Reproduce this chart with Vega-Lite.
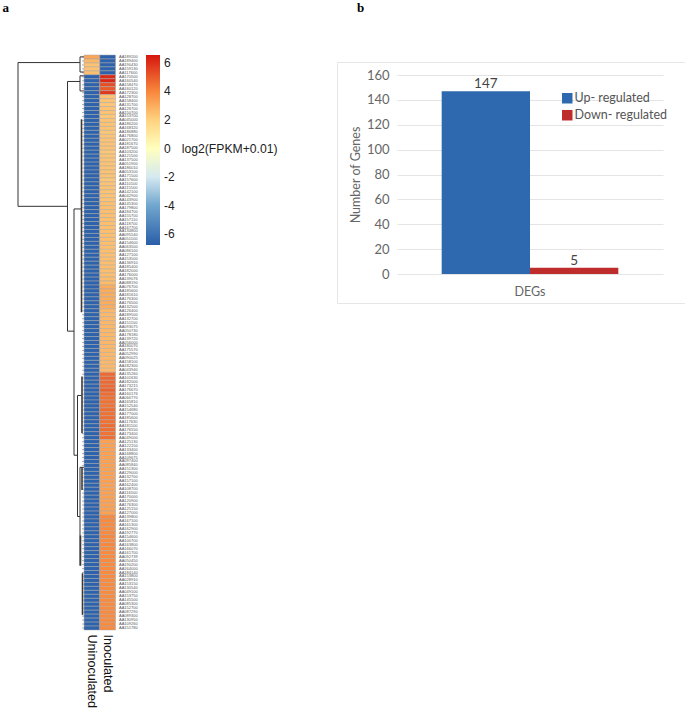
{"$schema":"https://vega.github.io/schema/vega-lite/v6.json","background":"white","padding":{"left":2,"top":2,"right":0,"bottom":0},
"config":{"view":{"stroke":null},"font":"Liberation Sans"},
"datasets":{"tree":[
{"branch":"main","height":66,"height2":66,"leaf":2,"leaf2":40},
{"branch":"main","height":66,"height2":4,"leaf":2,"leaf2":2},
{"branch":"main","height":4,"height2":4,"leaf":0.5,"leaf2":4.5},
{"branch":"main","height":4,"height2":0,"leaf":0.5,"leaf2":0.5},
{"branch":"main","height":4,"height2":0,"leaf":4.5,"leaf2":4.5},
{"branch":"main","height":66,"height2":16.5,"leaf":40,"leaf2":40},
{"branch":"main","height":16.5,"height2":16.5,"leaf":7,"leaf2":73},
{"branch":"main","height":16.5,"height2":4,"leaf":7,"leaf2":7},
{"branch":"main","height":4,"height2":4,"leaf":5.5,"leaf2":9.5},
{"branch":"main","height":4,"height2":0,"leaf":5.5,"leaf2":5.5},
{"branch":"main","height":4,"height2":0,"leaf":9.5,"leaf2":9.5},
{"branch":"main","height":16.5,"height2":10,"leaf":73,"leaf2":73},
{"branch":"main","height":10,"height2":10,"leaf":40.7,"leaf2":105.8},
{"branch":"main","height":10,"height2":2.5,"leaf":40.7,"leaf2":40.7},
{"branch":"main","height":10,"height2":6.5,"leaf":105.8,"leaf2":105.8},
{"branch":"main","height":6.5,"height2":6.5,"leaf":90,"leaf2":122},
{"branch":"main","height":6.5,"height2":2.5,"leaf":90,"leaf2":90},
{"branch":"main","height":6.5,"height2":4,"leaf":122,"leaf2":122},
{"branch":"main","height":4,"height2":4,"leaf":109,"leaf2":135},
{"branch":"main","height":4,"height2":0,"leaf":109,"leaf2":109},
{"branch":"dense","height":2.5,"height2":2.5,"leaf":17,"leaf2":68},
{"branch":"dense","height":2,"height2":2,"leaf":85,"leaf2":100},
{"branch":"dense","height":2,"height2":2,"leaf":109,"leaf2":115},
{"branch":"dense","height":3.5,"height2":3.5,"leaf":127,"leaf2":135},
{"branch":"dense","height":1.5,"height2":1.5,"leaf":137,"leaf2":148}
],
"cells":[
{"g":"AA189200","s":"Uninoculated","v":3.2},{"g":"AA189200","s":"Inoculated","v":-6.6},
{"g":"AA189400","s":"Uninoculated","v":2.7},{"g":"AA189400","s":"Inoculated","v":-6.6},
{"g":"AA190430","s":"Uninoculated","v":2.4},{"g":"AA190430","s":"Inoculated","v":-6.6},
{"g":"AA159130","s":"Uninoculated","v":2.4},{"g":"AA159130","s":"Inoculated","v":-6.6},
{"g":"AA117600","s":"Uninoculated","v":2.5},{"g":"AA117600","s":"Inoculated","v":-6.6},
{"g":"AA170500","s":"Uninoculated","v":-6.6},{"g":"AA170500","s":"Inoculated","v":6.1},
{"g":"AA160540","s":"Uninoculated","v":-6.6},{"g":"AA160540","s":"Inoculated","v":6.2},
{"g":"AA158470","s":"Uninoculated","v":-6.6},{"g":"AA158470","s":"Inoculated","v":5.3},
{"g":"AA160120","s":"Uninoculated","v":-6.6},{"g":"AA160120","s":"Inoculated","v":5.0},
{"g":"AA172300","s":"Uninoculated","v":-6.6},{"g":"AA172300","s":"Inoculated","v":5.8},
{"g":"AA128700","s":"Uninoculated","v":-6.6},{"g":"AA128700","s":"Inoculated","v":2.4},
{"g":"AA158400","s":"Uninoculated","v":-6.6},{"g":"AA158400","s":"Inoculated","v":2.4},
{"g":"AA131700","s":"Uninoculated","v":-6.6},{"g":"AA131700","s":"Inoculated","v":2.3},
{"g":"AA126700","s":"Uninoculated","v":-6.6},{"g":"AA126700","s":"Inoculated","v":2.4},
{"g":"AA150700","s":"Uninoculated","v":-6.6},{"g":"AA150700","s":"Inoculated","v":2.4},
{"g":"AA153700","s":"Uninoculated","v":-6.6},{"g":"AA153700","s":"Inoculated","v":2.3},
{"g":"AA045000","s":"Uninoculated","v":-6.6},{"g":"AA045000","s":"Inoculated","v":2.4},
{"g":"AA186200","s":"Uninoculated","v":-6.6},{"g":"AA186200","s":"Inoculated","v":2.4},
{"g":"AA168320","s":"Uninoculated","v":-6.6},{"g":"AA168320","s":"Inoculated","v":2.4},
{"g":"AA186880","s":"Uninoculated","v":-6.6},{"g":"AA186880","s":"Inoculated","v":2.3},
{"g":"AA176800","s":"Uninoculated","v":-6.6},{"g":"AA176800","s":"Inoculated","v":2.4},
{"g":"AA021700","s":"Uninoculated","v":-6.6},{"g":"AA021700","s":"Inoculated","v":2.4},
{"g":"AA181670","s":"Uninoculated","v":-6.6},{"g":"AA181670","s":"Inoculated","v":2.4},
{"g":"AA187500","s":"Uninoculated","v":-6.6},{"g":"AA187500","s":"Inoculated","v":2.4},
{"g":"AA103200","s":"Uninoculated","v":-6.6},{"g":"AA103200","s":"Inoculated","v":2.3},
{"g":"AA121500","s":"Uninoculated","v":-6.6},{"g":"AA121500","s":"Inoculated","v":2.4},
{"g":"AA137500","s":"Uninoculated","v":-6.6},{"g":"AA137500","s":"Inoculated","v":2.4},
{"g":"AA051900","s":"Uninoculated","v":-6.6},{"g":"AA051900","s":"Inoculated","v":2.4},
{"g":"AA186010","s":"Uninoculated","v":-6.6},{"g":"AA186010","s":"Inoculated","v":2.4},
{"g":"AA053100","s":"Uninoculated","v":-6.6},{"g":"AA053100","s":"Inoculated","v":2.4},
{"g":"AA171500","s":"Uninoculated","v":-6.6},{"g":"AA171500","s":"Inoculated","v":2.4},
{"g":"AA157600","s":"Uninoculated","v":-6.6},{"g":"AA157600","s":"Inoculated","v":2.3},
{"g":"AA110100","s":"Uninoculated","v":-6.6},{"g":"AA110100","s":"Inoculated","v":2.4},
{"g":"AA115500","s":"Uninoculated","v":-6.6},{"g":"AA115500","s":"Inoculated","v":2.4},
{"g":"AA142100","s":"Uninoculated","v":-6.6},{"g":"AA142100","s":"Inoculated","v":2.4},
{"g":"AA042900","s":"Uninoculated","v":-6.6},{"g":"AA042900","s":"Inoculated","v":2.4},
{"g":"AA143900","s":"Uninoculated","v":-6.6},{"g":"AA143900","s":"Inoculated","v":2.4},
{"g":"AA145300","s":"Uninoculated","v":-6.6},{"g":"AA145300","s":"Inoculated","v":2.5},
{"g":"AA179800","s":"Uninoculated","v":-6.6},{"g":"AA179800","s":"Inoculated","v":2.5},
{"g":"AA184700","s":"Uninoculated","v":-6.6},{"g":"AA184700","s":"Inoculated","v":2.5},
{"g":"AA155700","s":"Uninoculated","v":-6.6},{"g":"AA155700","s":"Inoculated","v":2.5},
{"g":"AA157110","s":"Uninoculated","v":-6.6},{"g":"AA157110","s":"Inoculated","v":2.5},
{"g":"AA118700","s":"Uninoculated","v":-6.6},{"g":"AA118700","s":"Inoculated","v":2.5},
{"g":"AA167700","s":"Uninoculated","v":-6.6},{"g":"AA167700","s":"Inoculated","v":2.5},
{"g":"AA134800","s":"Uninoculated","v":-6.6},{"g":"AA134800","s":"Inoculated","v":2.5},
{"g":"AA095540","s":"Uninoculated","v":-6.6},{"g":"AA095540","s":"Inoculated","v":2.5},
{"g":"AA051100","s":"Uninoculated","v":-6.6},{"g":"AA051100","s":"Inoculated","v":2.5},
{"g":"AA154600","s":"Uninoculated","v":-6.6},{"g":"AA154600","s":"Inoculated","v":2.5},
{"g":"AA063500","s":"Uninoculated","v":-6.6},{"g":"AA063500","s":"Inoculated","v":2.5},
{"g":"AA086100","s":"Uninoculated","v":-6.6},{"g":"AA086100","s":"Inoculated","v":2.5},
{"g":"AA127100","s":"Uninoculated","v":-6.6},{"g":"AA127100","s":"Inoculated","v":2.5},
{"g":"AA153500","s":"Uninoculated","v":-6.6},{"g":"AA153500","s":"Inoculated","v":2.5},
{"g":"AA136910","s":"Uninoculated","v":-6.6},{"g":"AA136910","s":"Inoculated","v":2.5},
{"g":"AA185400","s":"Uninoculated","v":-6.6},{"g":"AA185400","s":"Inoculated","v":2.5},
{"g":"AA182000","s":"Uninoculated","v":-6.6},{"g":"AA182000","s":"Inoculated","v":2.5},
{"g":"AA176000","s":"Uninoculated","v":-6.6},{"g":"AA176000","s":"Inoculated","v":2.5},
{"g":"AA139076","s":"Uninoculated","v":-6.6},{"g":"AA139076","s":"Inoculated","v":2.6},
{"g":"AA088190","s":"Uninoculated","v":-6.6},{"g":"AA088190","s":"Inoculated","v":2.6},
{"g":"AA076700","s":"Uninoculated","v":-6.6},{"g":"AA076700","s":"Inoculated","v":3.0},
{"g":"AA185600","s":"Uninoculated","v":-6.6},{"g":"AA185600","s":"Inoculated","v":3.0},
{"g":"AA181610","s":"Uninoculated","v":-6.6},{"g":"AA181610","s":"Inoculated","v":3.0},
{"g":"AA176300","s":"Uninoculated","v":-6.6},{"g":"AA176300","s":"Inoculated","v":3.0},
{"g":"AA176500","s":"Uninoculated","v":-6.6},{"g":"AA176500","s":"Inoculated","v":3.0},
{"g":"AA132500","s":"Uninoculated","v":-6.6},{"g":"AA132500","s":"Inoculated","v":3.0},
{"g":"AA126400","s":"Uninoculated","v":-6.6},{"g":"AA126400","s":"Inoculated","v":2.7},
{"g":"AA189500","s":"Uninoculated","v":-6.6},{"g":"AA189500","s":"Inoculated","v":2.7},
{"g":"AA132700","s":"Uninoculated","v":-6.6},{"g":"AA132700","s":"Inoculated","v":2.7},
{"g":"AA151100","s":"Uninoculated","v":-6.6},{"g":"AA151100","s":"Inoculated","v":2.7},
{"g":"AA093075","s":"Uninoculated","v":-6.6},{"g":"AA093075","s":"Inoculated","v":2.7},
{"g":"AA050730","s":"Uninoculated","v":-6.6},{"g":"AA050730","s":"Inoculated","v":2.7},
{"g":"AA178180","s":"Uninoculated","v":-6.6},{"g":"AA178180","s":"Inoculated","v":2.7},
{"g":"AA139720","s":"Uninoculated","v":-6.6},{"g":"AA139720","s":"Inoculated","v":2.7},
{"g":"AA056000","s":"Uninoculated","v":-6.6},{"g":"AA056000","s":"Inoculated","v":2.7},
{"g":"AA180070","s":"Uninoculated","v":-6.6},{"g":"AA180070","s":"Inoculated","v":2.7},
{"g":"AA175570","s":"Uninoculated","v":-6.6},{"g":"AA175570","s":"Inoculated","v":2.7},
{"g":"AA052990","s":"Uninoculated","v":-6.6},{"g":"AA052990","s":"Inoculated","v":2.7},
{"g":"AA090025","s":"Uninoculated","v":-6.6},{"g":"AA090025","s":"Inoculated","v":2.7},
{"g":"AA158100","s":"Uninoculated","v":-6.6},{"g":"AA158100","s":"Inoculated","v":2.7},
{"g":"AA182300","s":"Uninoculated","v":-6.6},{"g":"AA182300","s":"Inoculated","v":2.7},
{"g":"AA043940","s":"Uninoculated","v":-6.6},{"g":"AA043940","s":"Inoculated","v":2.7},
{"g":"AA135260","s":"Uninoculated","v":-6.6},{"g":"AA135260","s":"Inoculated","v":4.7},
{"g":"AA101630","s":"Uninoculated","v":-6.6},{"g":"AA101630","s":"Inoculated","v":4.8},
{"g":"AA182000B","s":"Uninoculated","v":-6.6},{"g":"AA182000B","s":"Inoculated","v":4.7},
{"g":"AA173215","s":"Uninoculated","v":-6.6},{"g":"AA173215","s":"Inoculated","v":4.7},
{"g":"AA176670","s":"Uninoculated","v":-6.6},{"g":"AA176670","s":"Inoculated","v":4.9},
{"g":"AA160176","s":"Uninoculated","v":-6.6},{"g":"AA160176","s":"Inoculated","v":4.6},
{"g":"AA066770","s":"Uninoculated","v":-6.6},{"g":"AA066770","s":"Inoculated","v":4.5},
{"g":"AA165810","s":"Uninoculated","v":-6.6},{"g":"AA165810","s":"Inoculated","v":4.5},
{"g":"AA152540","s":"Uninoculated","v":-6.6},{"g":"AA152540","s":"Inoculated","v":4.4},
{"g":"AA154680","s":"Uninoculated","v":-6.6},{"g":"AA154680","s":"Inoculated","v":4.6},
{"g":"AA177000","s":"Uninoculated","v":-6.6},{"g":"AA177000","s":"Inoculated","v":4.5},
{"g":"AA185600B","s":"Uninoculated","v":-6.6},{"g":"AA185600B","s":"Inoculated","v":4.6},
{"g":"AA117630","s":"Uninoculated","v":-6.6},{"g":"AA117630","s":"Inoculated","v":4.5},
{"g":"AA181100","s":"Uninoculated","v":-6.6},{"g":"AA181100","s":"Inoculated","v":4.6},
{"g":"AA176550","s":"Uninoculated","v":-6.6},{"g":"AA176550","s":"Inoculated","v":4.6},
{"g":"AA173400","s":"Uninoculated","v":-6.6},{"g":"AA173400","s":"Inoculated","v":4.5},
{"g":"AA049000","s":"Uninoculated","v":-6.6},{"g":"AA049000","s":"Inoculated","v":4.6},
{"g":"AA125130","s":"Uninoculated","v":-6.6},{"g":"AA125130","s":"Inoculated","v":3.3},
{"g":"AA122150","s":"Uninoculated","v":-6.6},{"g":"AA122150","s":"Inoculated","v":3.3},
{"g":"AA133400","s":"Uninoculated","v":-6.6},{"g":"AA133400","s":"Inoculated","v":3.3},
{"g":"AA168800","s":"Uninoculated","v":-6.6},{"g":"AA168800","s":"Inoculated","v":3.3},
{"g":"AA109675","s":"Uninoculated","v":-6.6},{"g":"AA109675","s":"Inoculated","v":3.3},
{"g":"AA097400","s":"Uninoculated","v":-6.6},{"g":"AA097400","s":"Inoculated","v":3.3},
{"g":"AA085840","s":"Uninoculated","v":-6.6},{"g":"AA085840","s":"Inoculated","v":3.3},
{"g":"AA151300","s":"Uninoculated","v":-6.6},{"g":"AA151300","s":"Inoculated","v":3.3},
{"g":"AA129000","s":"Uninoculated","v":-6.6},{"g":"AA129000","s":"Inoculated","v":3.3},
{"g":"AA132700B","s":"Uninoculated","v":-6.6},{"g":"AA132700B","s":"Inoculated","v":3.3},
{"g":"AA157100","s":"Uninoculated","v":-6.6},{"g":"AA157100","s":"Inoculated","v":3.3},
{"g":"AA162400","s":"Uninoculated","v":-6.6},{"g":"AA162400","s":"Inoculated","v":3.3},
{"g":"AA108700","s":"Uninoculated","v":-6.6},{"g":"AA108700","s":"Inoculated","v":3.3},
{"g":"AA116500","s":"Uninoculated","v":-6.6},{"g":"AA116500","s":"Inoculated","v":3.3},
{"g":"AA170000","s":"Uninoculated","v":-6.6},{"g":"AA170000","s":"Inoculated","v":3.3},
{"g":"AA120900","s":"Uninoculated","v":-6.6},{"g":"AA120900","s":"Inoculated","v":3.3},
{"g":"AA176300B","s":"Uninoculated","v":-6.6},{"g":"AA176300B","s":"Inoculated","v":3.3},
{"g":"AA125150","s":"Uninoculated","v":-6.6},{"g":"AA125150","s":"Inoculated","v":3.3},
{"g":"AA127000","s":"Uninoculated","v":-6.6},{"g":"AA127000","s":"Inoculated","v":3.3},
{"g":"AA139800","s":"Uninoculated","v":-6.6},{"g":"AA139800","s":"Inoculated","v":3.9},
{"g":"AA167100","s":"Uninoculated","v":-6.6},{"g":"AA167100","s":"Inoculated","v":3.9},
{"g":"AA161300","s":"Uninoculated","v":-6.6},{"g":"AA161300","s":"Inoculated","v":3.9},
{"g":"AA162900","s":"Uninoculated","v":-6.6},{"g":"AA162900","s":"Inoculated","v":3.9},
{"g":"AA192770","s":"Uninoculated","v":-6.6},{"g":"AA192770","s":"Inoculated","v":3.9},
{"g":"AA154600B","s":"Uninoculated","v":-6.6},{"g":"AA154600B","s":"Inoculated","v":4.0},
{"g":"AA100700","s":"Uninoculated","v":-6.6},{"g":"AA100700","s":"Inoculated","v":3.9},
{"g":"AA163800","s":"Uninoculated","v":-6.6},{"g":"AA163800","s":"Inoculated","v":4.0},
{"g":"AA166070","s":"Uninoculated","v":-6.6},{"g":"AA166070","s":"Inoculated","v":3.9},
{"g":"AA161700","s":"Uninoculated","v":-6.6},{"g":"AA161700","s":"Inoculated","v":3.9},
{"g":"AA092739","s":"Uninoculated","v":-6.6},{"g":"AA092739","s":"Inoculated","v":3.9},
{"g":"AA050450","s":"Uninoculated","v":-6.6},{"g":"AA050450","s":"Inoculated","v":3.9},
{"g":"AA190200","s":"Uninoculated","v":-6.6},{"g":"AA190200","s":"Inoculated","v":3.9},
{"g":"AA164000","s":"Uninoculated","v":-6.6},{"g":"AA164000","s":"Inoculated","v":3.9},
{"g":"AA184140","s":"Uninoculated","v":-6.6},{"g":"AA184140","s":"Inoculated","v":3.9},
{"g":"AA153800","s":"Uninoculated","v":-6.6},{"g":"AA153800","s":"Inoculated","v":3.9},
{"g":"AA028910","s":"Uninoculated","v":-6.6},{"g":"AA028910","s":"Inoculated","v":3.9},
{"g":"AA153150","s":"Uninoculated","v":-6.6},{"g":"AA153150","s":"Inoculated","v":3.9},
{"g":"AA130540","s":"Uninoculated","v":-6.6},{"g":"AA130540","s":"Inoculated","v":3.9},
{"g":"AA049100","s":"Uninoculated","v":-6.6},{"g":"AA049100","s":"Inoculated","v":3.9},
{"g":"AA153750","s":"Uninoculated","v":-6.6},{"g":"AA153750","s":"Inoculated","v":3.9},
{"g":"AA145500","s":"Uninoculated","v":-6.6},{"g":"AA145500","s":"Inoculated","v":3.9},
{"g":"AA085300","s":"Uninoculated","v":-6.6},{"g":"AA085300","s":"Inoculated","v":3.9},
{"g":"AA152700","s":"Uninoculated","v":-6.6},{"g":"AA152700","s":"Inoculated","v":3.9},
{"g":"AA087290","s":"Uninoculated","v":-6.6},{"g":"AA087290","s":"Inoculated","v":3.9},
{"g":"AA089300","s":"Uninoculated","v":-6.6},{"g":"AA089300","s":"Inoculated","v":3.9},
{"g":"AA130950","s":"Uninoculated","v":-6.6},{"g":"AA130950","s":"Inoculated","v":3.9},
{"g":"AA109260","s":"Uninoculated","v":-6.6},{"g":"AA109260","s":"Inoculated","v":3.9},
{"g":"AA151780","s":"Uninoculated","v":-6.6},{"g":"AA151780","s":"Inoculated","v":3.9}
]},
"hconcat":[
{"hconcat":[
{"width":66,"height":575,"title":{"text":"a","anchor":"start","dx":-15,"offset":40,"font":"Liberation Serif","fontWeight":"bold","fontSize":13,"color":"#000"},
"layer":[
{"data":{"name":"cells"},"transform":[{"filter":"datum.s === 'Inoculated'"}],"mark":{"type":"rule","stroke":"#777","strokeWidth":0.6},
"encoding":{"x":{"datum":0,"type":"quantitative","scale":{"domain":[66,0],"nice":false,"zero":false},"axis":null},"x2":{"datum":2},"y":{"field":"g","type":"nominal","sort":null,"axis":null}}},
{"data":{"name":"tree"},"transform":[{"filter":"datum.branch === 'main'"}],"mark":{"type":"rule","stroke":"#333","strokeWidth":1},
"encoding":{"x":{"field":"height","type":"quantitative","scale":{"domain":[66,0],"nice":false,"zero":false},"axis":null},"x2":{"field":"height2"},"y":{"field":"leaf","type":"quantitative","scale":{"domain":[0,152],"reverse":true,"nice":false},"axis":null},"y2":{"field":"leaf2"}}},
{"data":{"name":"tree"},"transform":[{"filter":"datum.branch === 'dense'"}],"mark":{"type":"rule","stroke":"#3a3a3a","strokeWidth":1.6},
"encoding":{"x":{"field":"height","type":"quantitative","scale":{"domain":[66,0],"nice":false,"zero":false},"axis":null},"x2":{"field":"height2"},"y":{"field":"leaf","type":"quantitative","scale":{"domain":[0,152],"reverse":true,"nice":false},"axis":null},"y2":{"field":"leaf2"}}}
],"resolve":{"scale":{"y":"independent"}}},
{"width":31.5,"height":575,"data":{"name":"cells"},"title":{"text":"log2(FPKM+0.01)","anchor":"start","dx":98,"offset":-101,"fontSize":12.2,"fontWeight":"normal","color":"#222"},"mark":{"type":"rect","stroke":"#a8a8a8","strokeWidth":0.5},
"encoding":{
"x":{"field":"s","type":"nominal","scale":{"domain":["Uninoculated","Inoculated"],"paddingInner":0,"paddingOuter":0},"axis":{"title":null,"orient":"bottom","labelAngle":90,"labelFontSize":12.6,"labelColor":"#111","labelPadding":4,"ticks":false,"domain":false,"labelLimit":0}},
"y":{"field":"g","type":"nominal","sort":null,"scale":{"paddingInner":0,"paddingOuter":0},"axis":{"title":null,"orient":"right","ticks":false,"domain":false,"labelFontSize":4,"labelColor":"#555","labelPadding":3,"labelOverlap":false,"labelLimit":0,"labelExpr":"slice(datum.label,0,8)"}},
"color":{"field":"v","type":"quantitative","scale":{"domain":[-6.77,-4,-2,0,2,4,6.56],"range":["#2a5ea8","#70a6ce","#d5e9f0","#ffffbf","#fed27f","#f8873c","#d5170f"],"interpolate":"rgb"},
"legend":{"title":null,"orient":"none","legendX":128,"legendY":0,"direction":"vertical","gradientLength":190,"gradientThickness":14,"gradientStrokeWidth":0,"values":[-6,-4,-2,0,2,4,6],"labelExpr":"datum.value+''","labelFontSize":12,"labelColor":"#222","labelOffset":4,"labelOverlap":false}}}}
],"spacing":0,"bounds":"flush"},
{"vconcat":[
{"width":348,"height":1,"data":{"values":[]},"mark":{"type":"point","opacity":0},"title":{"text":"b","anchor":"start","dx":20,"offset":40,"font":"Liberation Serif","fontWeight":"bold","fontSize":13,"color":"#000"}},
{"width":348,"height":241,"view":{"stroke":"#e6e6e6","strokeWidth":1},"data":{"values":[
{"metric":"DEGs","series":"Up- regulated","genes":147},{"metric":"DEGs","series":"Down- regulated","genes":5}]},
"encoding":{
"x":{"field":"metric","type":"nominal","scale":{"range":[60,326],"paddingInner":0,"paddingOuter":0.253},"axis":{"title":null,"labelAngle":0,"ticks":false,"domain":false,"offset":-29,"labelPadding":11,"labelFont":"Lato","labelFontSize":12.5,"labelColor":"#666"}},
"xOffset":{"field":"series","type":"nominal","sort":["Up- regulated","Down- regulated"]},
"y":{"field":"genes","type":"quantitative","scale":{"domain":[0,160],"range":[212,13],"nice":false},"axis":{"title":"Number of Genes","values":[0,20,40,60,80,100,120,140,160],"ticks":false,"domain":false,"offset":-60,"labelPadding":8,"labelFont":"Lato","labelFontSize":13,"labelColor":"#666","titleFont":"Lato","titleFontSize":12.5,"titleFontWeight":"normal","titleColor":"#666","titlePadding":4,"grid":true,"gridColor":"#e4e4e4","gridWidth":1}}},
"layer":[
{"mark":{"type":"bar"},"encoding":{"color":{"field":"series","type":"nominal","sort":["Up- regulated","Down- regulated"],"scale":{"domain":["Up- regulated","Down- regulated"],"range":["#2e69b0","#bf2c2c"]},
"legend":{"title":null,"orient":"none","legendX":224,"legendY":37,"symbolType":"square","symbolSize":110,"symbolStrokeWidth":0,"symbolOpacity":1,"labelFont":"Lato","labelFontSize":12.5,"labelColor":"#555","labelOffset":1,"rowPadding":4}}}},
{"mark":{"type":"text","dy":-7,"font":"Lato","fontSize":13.5,"color":"#444"},"encoding":{"text":{"field":"genes","type":"quantitative"}}}
]}
],"spacing":6,"bounds":"flush"}
],"spacing":319,"bounds":"flush"}
